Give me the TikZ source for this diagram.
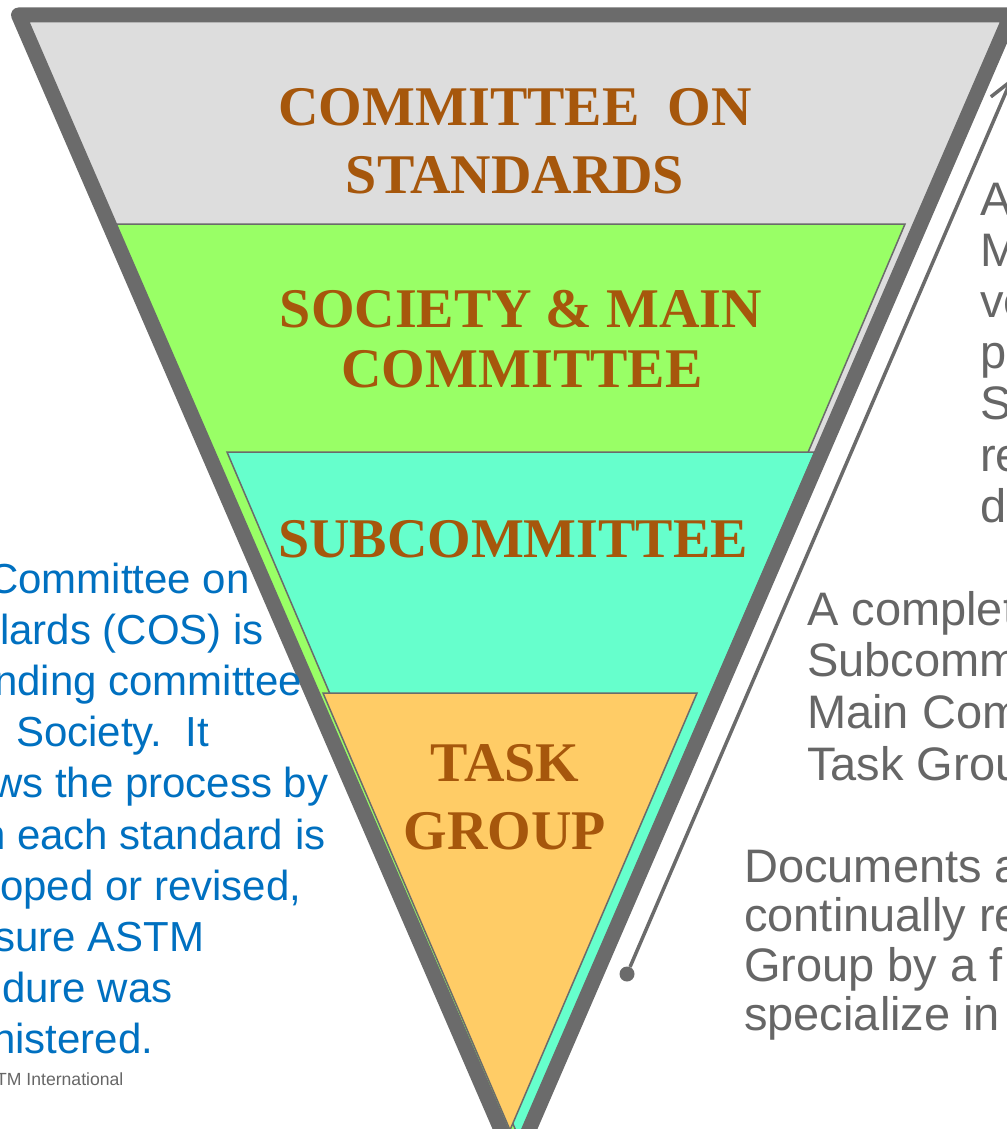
\documentclass[tikz,border=0pt]{standalone}
\usepackage{fontspec}
\setmainfont{Liberation Serif}
\setsansfont{Liberation Sans}
\usetikzlibrary{arrows.meta}
\usetikzlibrary{positioning}

\definecolor{funnelgray}{RGB}{107,107,107}
\definecolor{cosgray}{RGB}{221,221,221}
\definecolor{maingreen}{RGB}{153,255,102}
\definecolor{subcyan}{RGB}{102,255,204}
\definecolor{taskorange}{RGB}{255,204,102}
\definecolor{labelbrown}{RGB}{166,87,12}
\definecolor{cosblue}{RGB}{0,112,192}
\definecolor{notegray}{RGB}{102,102,102}

\tikzset{
  band/.style={draw=funnelgray, line width=1.5pt},
  levelname/.style={font=\bfseries\fontsize{56}{67}\selectfont, text=labelbrown, anchor=base, inner sep=0pt},
  bluenote/.style={font=\sffamily\fontsize{42}{51}\selectfont, text=cosblue, anchor=base west, inner sep=0pt},
  graynote/.style={font=\sffamily\fontsize{47}{51}\selectfont, text=notegray, anchor=base west, inner sep=0pt},
}

\begin{document}
\begin{tikzpicture}[x=1pt, y=-1pt]
\useasboundingbox (0,0) rectangle (1006,1129);

%funnel background
\fill[cosgray] (18.5,15) -- (1011,15) -- (515,1162) -- cycle;

%main committee band
\draw[band, fill=maingreen] (109,224) -- (905,224) -- (511,1152) -- cycle;
%subcommittee band
\draw[band, fill=subcyan] (227,452) -- (815,452) -- (519,1138) -- cycle;
%task group band
\draw[band, fill=taskorange] (323,693) -- (697,693) -- (510,1130) -- cycle;

%funnel outline
\draw[funnelgray, line width=15pt, line join=round] (18.5,15) -- (1011,15) -- (515,1162) -- cycle;

%level names
\node[levelname] (cos1) at (515,126) {COMMITTEE \ ON};
\node[levelname] (cos2) at (515,193) {STANDARDS};
\node[levelname] (main1) at (521,327) {SOCIETY \& MAIN};
\node[levelname] (main2) at (522,387) {COMMITTEE};
\node[levelname] (sub) at (513,557) {SUBCOMMITTEE};
\node[levelname] (task1) at (505,781) {TASK};
\node[levelname] (task2) at (505,849) {GROUP};

%upward arrow
\node[circle, fill=funnelgray, inner sep=0pt, minimum size=15pt] (start) at (627,974) {};
\coordinate (tip) at (1012,78);
\draw[funnelgray, line width=3.5pt, -{Straight Barb[length=22pt, width=24pt]}] (start) -- (tip);

%left note
\foreach \x/\t [count=\i] in {-12/Committee on, 0/lards (COS) is, -6/nding committee, 16/Society.\ \ It, -8/ws the process by, -18/n each standard is, 0/{oped or revised,}, -6/sure ASTM, 2/dure was, -8/nistered.}
  \node[bluenote] (note\i) at (\x, 541.8+51.2*\i) {\t};
\node[font=\sffamily\fontsize{17.6}{20}\selectfont, text=notegray, anchor=base west, inner sep=0pt] (credit) at (-4,1085) {TM International};

%right notes
\foreach \t [count=\i from 0] in {A, M, ve, p, S, re, d}
  \node[graynote] (ballot\i) at (980, 215+51.2*\i) {\t};
\foreach \t [count=\i from 0] in {A complet, Subcomm, Main Com, Task Grou}
  \node[graynote] (review\i) at (807, 625+51.7*\i) {\t};
\foreach \t [count=\i from 0] in {Documents a, continually re, Group by a f, specialize in}
  \node[graynote] (draft\i) at (744, 882+49.5*\i) {\t};

\end{tikzpicture}
\end{document}
